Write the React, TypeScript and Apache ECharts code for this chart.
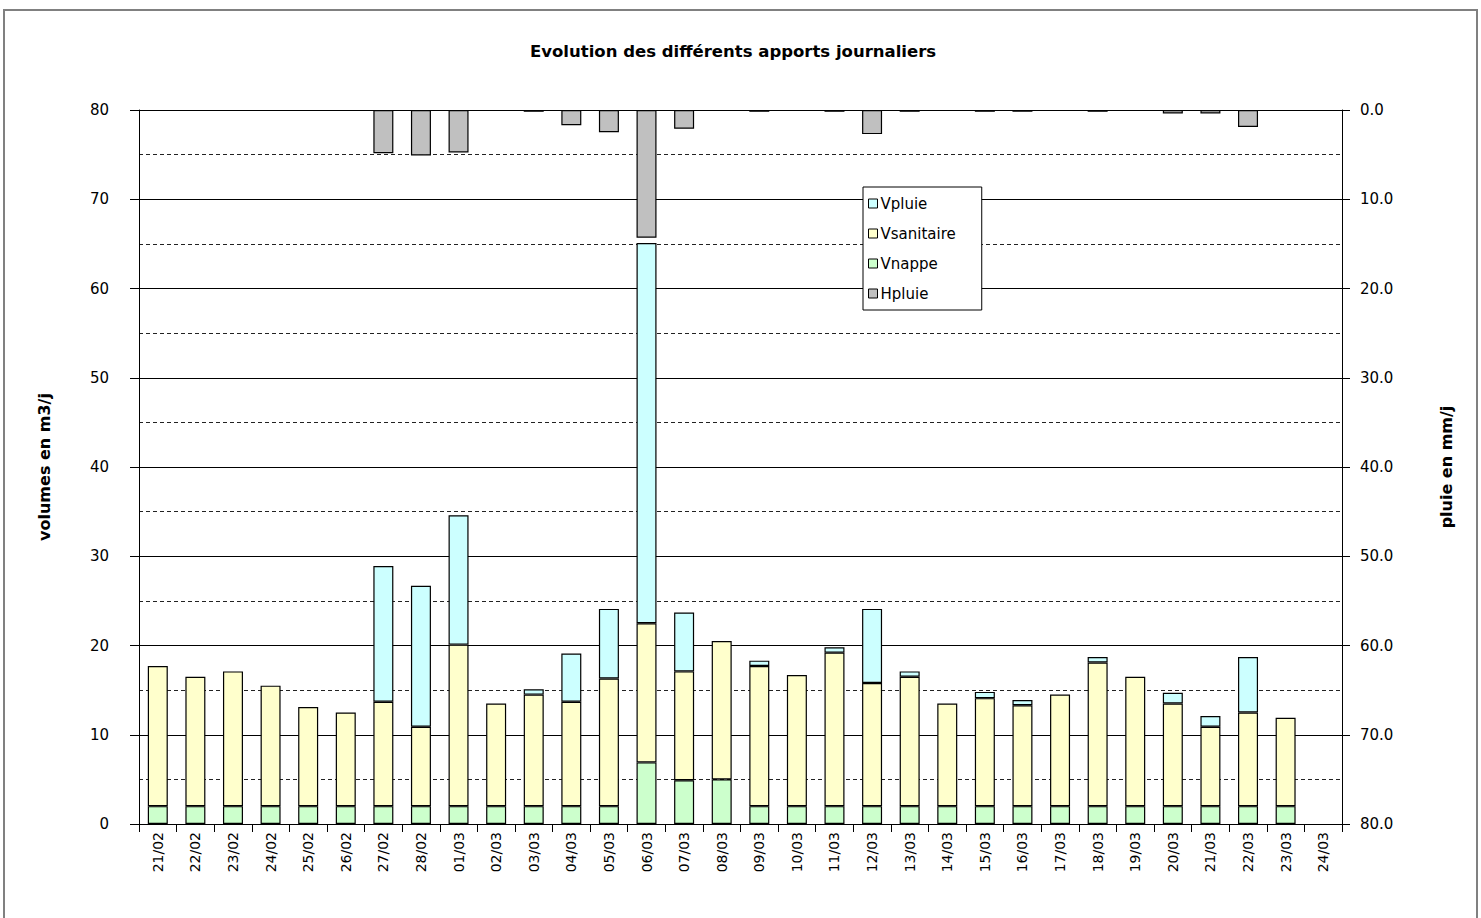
import React, { useEffect, useRef } from "react";
import * as echarts from "echarts";

const categories = [
  "21/02", "22/02", "23/02", "24/02", "25/02", "26/02", "27/02", "28/02",
  "01/03", "02/03", "03/03", "04/03", "05/03", "06/03", "07/03", "08/03",
  "09/03", "10/03", "11/03", "12/03", "13/03", "14/03", "15/03", "16/03",
  "17/03", "18/03", "19/03", "20/03", "21/03", "22/03", "23/03", "24/03",
];

const vnappe = [
  2, 2, 2, 2, 2, 2, 2, 2,
  2, 2, 2, 2, 2, 6.9, 4.9, 5,
  2, 2, 2, 2, 2, 2, 2, 2,
  2, 2, 2, 2, 2, 2, 2, null,
];

const vsanitaire = [
  15.7, 14.5, 15.1, 13.5, 11.1, 10.5, 11.7, 8.9,
  18.1, 11.5, 12.5, 11.7, 14.3, 15.6, 12.2, 15.5,
  15.7, 14.7, 17.2, 13.8, 14.5, 11.5, 12.1, 11.3,
  12.5, 16.1, 14.5, 11.5, 8.9, 10.5, 9.9, null,
];

const vpluie = [
  null, null, null, null, null, null, 15.2, 15.8,
  14.5, null, 0.6, 5.4, 7.8, 42.6, 6.6, null,
  0.6, null, 0.6, 8.3, 0.6, null, 0.7, 0.6,
  null, 0.6, null, 1.2, 1.2, 6.2, null, null,
];

const hpluie = [
  null, null, null, null, null, null, 4.85, 5.1,
  4.75, null, 0.2, 1.7, 2.5, 14.3, 2.1, null,
  0.2, null, 0.2, 2.7, 0.2, null, 0.2, 0.2,
  null, 0.2, null, 0.4, 0.4, 1.9, null, null,
];

const leftTicks = { min: 0, max: 80, interval: 10 };
const rightTicks = { min: 0, max: 80, interval: 10 };

const FONT = "'DejaVu Sans', sans-serif";
const FONT_BOLD = "'DejaVu Sans', sans-serif";

export default function App() {
  const ref = useRef<HTMLDivElement>(null);

  useEffect(() => {
    if (!ref.current) return;
    const chart = echarts.init(ref.current, null, { renderer: "svg" });
    const border = { borderColor: "#000", borderWidth: 1.2 };
    const option = {
      animation: false,
      backgroundColor: "#fff",
      title: {
        text: "Evolution des différents apports journaliers",
        left: 530,
        top: 43,
        padding: 0,
        textStyle: { fontFamily: FONT_BOLD, fontWeight: "bold", fontSize: 16.5, color: "#000" },
      },
      graphic: [
        {
          type: "rect",
          shape: { x: 4, y: 10, width: 1473, height: 1000 },
          style: { fill: "none", stroke: "#808080", lineWidth: 2 },
          silent: true,
        },
      ],
      legend: {
        orient: "vertical",
        left: 863,
        top: 187,
        padding: [8, 26, 8, 5],
        itemGap: 13,
        itemWidth: 9,
        itemHeight: 9,
        icon: "rect",
        backgroundColor: "#fff",
        borderColor: "#000",
        borderWidth: 1,
        itemStyle: { borderColor: "#000", borderWidth: 1 },
        textStyle: { fontFamily: FONT, fontSize: 15, color: "#000", lineHeight: 17, padding: [0, 0, 0, -2] },
        data: ["Vpluie", "Vsanitaire", "Vnappe", "Hpluie"],
      },
      grid: { left: 139, right: 139, top: 110, bottom: 94 },
      xAxis: {
        type: "category",
        data: categories,
        boundaryGap: true,
        axisLine: { lineStyle: { color: "#000", width: 1 } },
        axisTick: { show: true, interval: 0, length: 8, lineStyle: { color: "#000" } },
        axisLabel: {
          interval: 0,
          rotate: 90,
          margin: 8,
          fontFamily: FONT,
          fontSize: 14,
          color: "#000",
        },
      },
      yAxis: [
        {
          type: "value",
          ...leftTicks,
          position: "left",
          name: "volumes en m3/j",
          nameLocation: "middle",
          nameGap: 87,
          nameRotate: 90,
          nameTextStyle: { fontFamily: FONT_BOLD, fontWeight: "bold", fontSize: 16, color: "#000" },
          axisLine: { show: true, lineStyle: { color: "#000", width: 1 } },
          axisTick: { show: true, length: 9, lineStyle: { color: "#000" } },
          axisLabel: { margin: 30, fontFamily: FONT, fontSize: 15, color: "#000" },
          splitLine: { show: true, lineStyle: { color: "#000", width: 1 } },
          minorTick: { show: false, splitNumber: 2 },
          minorSplitLine: { show: true, lineStyle: { color: "#222", width: 1, type: [4, 3] } },
        },
        {
          type: "value",
          ...rightTicks,
          inverse: true,
          position: "right",
          name: "pluie en mm/j",
          nameLocation: "middle",
          nameGap: 96,
          nameRotate: 90,
          nameTextStyle: { fontFamily: FONT_BOLD, fontWeight: "bold", fontSize: 16, color: "#000" },
          axisLine: { show: true, lineStyle: { color: "#000", width: 1 } },
          axisTick: { show: true, length: 8, lineStyle: { color: "#000" } },
          axisLabel: {
            margin: 18,
            fontFamily: FONT,
            fontSize: 15,
            color: "#000",
            formatter: (v: number) => v.toFixed(1),
          },
          splitLine: { show: false },
        },
      ],
      series: [
        {
          name: "Vnappe",
          type: "bar",
          stack: "v",
          yAxisIndex: 0,
          barWidth: 20,
          data: vnappe,
          itemStyle: { color: "#CCFFCC", ...border },
        },
        {
          name: "Vsanitaire",
          type: "bar",
          stack: "v",
          yAxisIndex: 0,
          barWidth: 20,
          data: vsanitaire,
          itemStyle: { color: "#FFFFCC", ...border },
        },
        {
          name: "Vpluie",
          type: "bar",
          stack: "v",
          yAxisIndex: 0,
          barWidth: 20,
          data: vpluie,
          itemStyle: { color: "#CCFFFF", ...border },
        },
        {
          name: "Hpluie",
          type: "bar",
          yAxisIndex: 1,
          barWidth: 20,
          barGap: "-100%",
          data: hpluie,
          itemStyle: { color: "#C0C0C0", ...border },
        },
      ],
    };
    chart.setOption(option as any);
    return () => chart.dispose();
  }, []);

  return (
    <div
      ref={ref}
      style={{ position: "fixed", left: 0, top: 0, width: 1481, height: 918, background: "#fff" }}
    />
  );
}
